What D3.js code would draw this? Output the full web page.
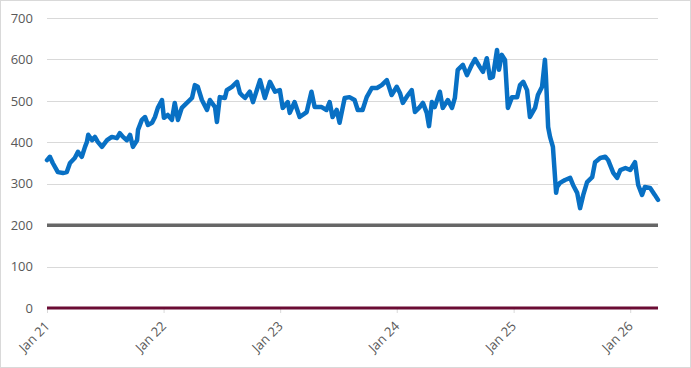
<!DOCTYPE html>
<html>
<head>
<meta charset="utf-8">
<script src="https://cdn.jsdelivr.net/npm/d3@7"></script>
<style>
  html, body { margin: 0; padding: 0; background: #fff; }
  svg { display: block; }
</style>
</head>
<body>
<svg id="chart" width="691" height="368"></svg>
<script>
// ---- Data ----
const dates = [
  "2021-01-01","2021-01-10","2021-01-19","2021-02-04","2021-02-20","2021-03-04","2021-03-14","2021-03-29",
  "2021-04-08","2021-04-20","2021-04-30","2021-05-06","2021-05-10","2021-05-22","2021-05-31","2021-06-09",
  "2021-06-22","2021-07-08","2021-07-23","2021-08-08","2021-08-17","2021-08-27","2021-09-08","2021-09-18",
  "2021-09-27","2021-10-10","2021-10-13","2021-10-25","2021-11-04","2021-11-13","2021-11-26","2021-12-05",
  "2021-12-14","2021-12-27",
  "2022-01-02","2022-01-14","2022-01-27","2022-02-05","2022-02-15","2022-02-27","2022-03-15","2022-03-31",
  "2022-04-09","2022-04-18","2022-05-01","2022-05-17","2022-05-26","2022-06-11","2022-06-17","2022-06-26",
  "2022-07-12","2022-07-18","2022-08-03","2022-08-19","2022-08-28","2022-09-03","2022-09-13","2022-09-28",
  "2022-10-08","2022-10-30","2022-11-14","2022-11-30","2022-12-16","2022-12-31",
  "2023-01-09","2023-01-25","2023-01-31","2023-02-15","2023-03-03","2023-03-25","2023-04-09","2023-04-19",
  "2023-05-11","2023-05-26","2023-06-05","2023-06-14","2023-06-27","2023-07-06","2023-07-22","2023-08-06",
  "2023-08-22","2023-09-01","2023-09-16","2023-09-29","2023-10-15","2023-10-31","2023-11-15","2023-12-01",
  "2023-12-16",
  "2024-01-01","2024-01-11","2024-01-20","2024-02-05","2024-02-17","2024-02-27","2024-03-13","2024-03-23",
  "2024-04-04","2024-04-11","2024-04-20","2024-04-29","2024-05-15","2024-05-24","2024-06-09","2024-06-22",
  "2024-07-01","2024-07-10","2024-07-26","2024-08-08","2024-08-23","2024-09-02","2024-09-17","2024-09-27",
  "2024-10-09","2024-10-19","2024-10-28","2024-11-10","2024-11-16","2024-11-25","2024-12-05","2024-12-14",
  "2024-12-27",
  "2025-01-12","2025-01-21","2025-01-31","2025-02-12","2025-02-21","2025-03-09","2025-03-18","2025-03-31",
  "2025-04-09","2025-04-12","2025-04-19","2025-04-25","2025-05-04","2025-05-14","2025-05-17","2025-05-26",
  "2025-06-11","2025-06-27","2025-07-06","2025-07-19","2025-07-28","2025-08-07","2025-08-19","2025-09-04",
  "2025-09-13","2025-09-29","2025-10-15","2025-10-24","2025-11-09","2025-11-21","2025-12-01","2025-12-17",
  "2026-01-01","2026-01-16","2026-01-26","2026-02-07","2026-02-16","2026-03-04","2026-03-19","2026-03-29"
];
const prices = [
  357,365,350,328,326,328,350,362,
  377,365,389,401,418,405,413,401,
  389,405,413,410,422,413,405,418,
  389,405,430,454,461,442,447,461,
  483,502,
  459,466,454,495,454,483,495,507,
  538,534,502,478,502,485,449,509,
  507,526,534,546,519,514,507,522,
  497,550,507,546,522,526,
  483,497,471,497,461,473,522,485,
  485,478,497,461,478,447,507,509,
  502,478,478,509,531,531,538,550,
  514,
  534,519,495,514,526,473,485,495,
  471,439,497,485,522,483,502,483,
  507,575,587,562,587,601,582,570,
  603,555,558,623,575,611,599,483,
  509,
  509,538,546,526,461,483,514,534,
  599,560,437,413,389,278,292,302,
  309,314,297,278,241,273,304,316,
  352,362,365,357,326,314,333,338,
  333,352,297,273,292,290,273,261
];
const floorLevel = [200, 200];   // grey reference line
const zeroLevel  = [0, 0];       // maroon baseline series
const levelDates = ["2021-01-01", "2026-03-29"];
const yTicks = [0, 100, 200, 300, 400, 500, 600, 700];
const xTickDates = ["2021-01-01","2022-01-01","2023-01-01","2024-01-01","2025-01-01","2026-01-01"];

// ---- Layout ----
const W = 691, H = 368;
const plot = { left: 47, right: 658, top: 18, bottom: 308 };
const parse = d3.timeParse("%Y-%m-%d");

const svg = d3.select("#chart");
svg.append("rect")
  .attr("x", 0.5).attr("y", 0.5).attr("width", W - 1).attr("height", H - 1)
  .attr("fill", "#fff").attr("stroke", "#d9d9d9");

const x = d3.scaleTime()
  .domain([parse("2021-01-01"), parse("2026-03-29")])
  .range([plot.left, plot.right]);
const y = d3.scaleLinear()
  .domain([0, 700])
  .range([plot.bottom, plot.top]);

// gridlines
svg.append("g").selectAll("line").data(yTicks.filter(v => v > 0)).join("line")
  .attr("x1", x.range()[0]).attr("x2", x.range()[1])
  .attr("y1", d => Math.round(y(d)) + 0.5).attr("y2", d => Math.round(y(d)) + 0.5)
  .attr("stroke", "#d9d9d9").attr("stroke-width", 1);

// y axis labels
const yAxis = d3.axisLeft(y).tickValues(yTicks).tickSize(0).tickPadding(14);
const gy = svg.append("g").attr("transform", `translate(${plot.left},0)`).call(yAxis);
gy.select(".domain").remove();
gy.selectAll("text")
  .attr("font-family", "'Open Sans', sans-serif").attr("font-size", 13).attr("fill", "#595959");

// x axis
const xAxis = d3.axisBottom(x)
  .tickValues(xTickDates.map(parse))
  .tickSize(5).tickPadding(3)
  .tickFormat(d3.timeFormat("Jan %y"));
const gx = svg.append("g").attr("transform", `translate(0,${y(0)})`).call(xAxis);
gx.select(".domain").remove();
gx.selectAll(".tick line").attr("stroke", "#d9d9d9");
gx.selectAll("text")
  .attr("font-family", "'Open Sans', sans-serif").attr("font-size", 13).attr("fill", "#595959")
  .attr("text-anchor", "end")
  .attr("x", 0).attr("y", 0).attr("dy", 0)
  .attr("transform", "translate(3,19) rotate(-45)");

// reference lines
const lvlLine = d3.line().x((d, i) => x(parse(levelDates[i]))).y(d => y(d));
svg.append("path").datum(floorLevel).attr("d", lvlLine)
  .attr("fill", "none").attr("stroke", "#666666").attr("stroke-width", 3.5);
svg.append("path").datum(zeroLevel).attr("d", lvlLine)
  .attr("fill", "none").attr("stroke", "#6b0c34").attr("stroke-width", 3);

// price line
const priceLine = d3.line()
  .x((d, i) => x(parse(dates[i])))
  .y(d => y(d));
svg.append("path").datum(prices).attr("d", priceLine)
  .attr("fill", "none").attr("stroke", "#0870c4").attr("stroke-width", 4.5)
  .attr("stroke-linejoin", "round").attr("stroke-linecap", "round");
</script>
</body>
</html>
